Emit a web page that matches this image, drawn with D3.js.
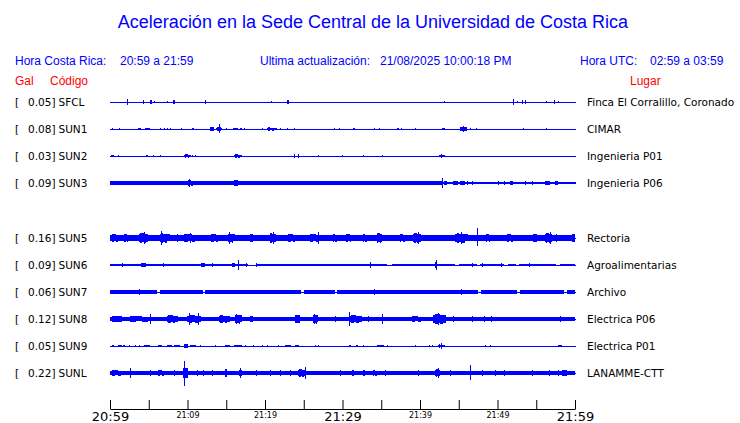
<!DOCTYPE html>
<html>
<head>
<meta charset="utf-8">
<script src="https://cdn.jsdelivr.net/npm/d3@7"></script>
<style>
  body { margin: 0; background: #fff; }
  svg { display: block; }
  .hdr { font-family: "Liberation Sans", Arial, sans-serif; font-size: 12px; }
  .lbl { font-family: "DejaVu Sans", sans-serif; font-size: 10.5px; fill: #000; }
</style>
</head>
<body>
<svg id="chart"></svg>
<script>
// --- data ---
const slots = ["SFCL", "SUN1", "SUN2", "SUN3", "SUN4", "SUN5", "SUN6", "SUN7", "SUN8", "SUN9", "SUNL"];
const codes = ["SFCL", "SUN1", "SUN2", "SUN3", "SUN5", "SUN6", "SUN7", "SUN8", "SUN9", "SUNL"];
const peakGal = [0.05, 0.08, 0.03, 0.09, 0.16, 0.09, 0.06, 0.12, 0.05, 0.22];
const places = ["Finca El Corralillo, Coronado", "CIMAR", "Ingenieria P01", "Ingenieria P06",
  "Rectoria", "Agroalimentarias", "Archivo", "Electrica P06", "Electrica P01", "LANAMME-CTT"];
// background noise level (gal, half amplitude) per station
const noiseGal = [0.008, 0.008, 0.008, 0.028, 0.044, 0.022, 0.03, 0.036, 0.008, 0.04];

const tickTimes = ["20:59", "21:04", "21:09", "21:14", "21:19", "21:24", "21:29",
  "21:34", "21:39", "21:44", "21:49", "21:54", "21:59"];
const majorLabels = ["20:59", "21:29", "21:59"];
const minorLabels = ["21:09", "21:19", "21:39", "21:49"];

// bursts: [start min, end min, half amplitude up (gal), optional down]
const sfcl = [[2.15,2.15,0.045],[4.2,4.2,0.025],[5.1,5.1,0.03],[5.3,5.3,0.03],[5.7,5.7,0.017],[7.3,7.3,0.017],
  [8.1,8.3,0.025],[12.2,12.2,0.025],[20.8,20.8,0.017],[22.8,23.0,0.03],[43.1,43.1,0.017],[52.0,52.0,0.055],
  [52.5,52.5,0.017],[53.2,53.2,0.03],[53.5,53.5,0.03],[56.2,56.2,0.017],[57.3,57.3,0.03],[57.8,57.8,0.017]];
const sun1 = [[0.2,0.2,0.017],[1.1,1.1,0.017],[3.6,3.6,0.017],[3.8,4.1,0.022],[4.5,5.1,0.022],[6.4,6.4,0.017],
  [7.0,7.0,0.017],[7.4,7.4,0.017],[7.8,7.8,0.017],[9.2,9.2,0.017],[10.6,10.9,0.022],[12.9,13.4,0.025],
  [13.7,14.5,0.033],[14.1,14.1,0.088,0.072],[15.0,15.0,0.017],[15.9,16.5,0.022],[16.8,17.1,0.022],[17.3,17.3,0.017],
  [19.6,19.6,0.022],[20.2,21.5,0.027],[20.5,20.5,0.038],[21.9,21.9,0.022],[22.9,22.9,0.017],[23.8,23.8,0.017],
  [28.9,28.9,0.017],[29.6,29.6,0.017],[31.4,31.6,0.022],[34.0,34.0,0.022],[34.7,34.7,0.017],[37.0,37.2,0.022],
  [37.6,37.6,0.017],[39.4,39.4,0.017],[42.9,43.3,0.022],[45.2,46.1,0.04],[45.6,45.6,0.045],[46.5,46.5,0.022],
  [47.2,47.2,0.022],[53.3,53.3,0.017],[56.3,56.3,0.022]];
const sun2 = [[0.1,0.5,0.022],[1.0,1.0,0.017],[4.6,4.9,0.022],[5.6,5.6,0.017],[6.4,6.4,0.017],[9.5,10.5,0.028],
  [10.6,10.6,0.022],[11.0,11.0,0.017],[16.0,17.0,0.028],[23.7,23.7,0.025],[24.3,24.3,0.025],[26.9,26.9,0.017],
  [29.9,29.9,0.017],[32.7,32.7,0.017],[35.1,35.1,0.022],[42.5,43.2,0.017],[42.7,42.7,0.033]];
const sun3 = [[1.3,1.3,0.033],[4.7,4.7,0.038],[5.5,5.5,0.038],[9.9,10.9,0.05],[10.2,10.2,0.06],[16.0,16.5,0.042],
  [23.8,23.8,0.038],[26.5,26.5,0.038],[26.9,26.9,0.038],[42.8,42.8,0.085],[43.1,43.5,0.04],[44.2,44.9,0.037],
  [45.2,45.8,0.037],[46.0,46.0,0.037],[46.7,46.7,0.037],[50.1,50.1,0.037],[50.8,50.8,0.037],[51.6,52.0,0.037],
  [53.5,53.5,0.037],[54.4,54.4,0.037],[56.1,56.7,0.037],[57.4,57.8,0.037]];
const sun5 = [[0,1.3,0.07],[1.7,2.6,0.065],[3.7,4.9,0.09],[4.4,4.4,0.1],[6.4,7.7,0.08],[6.6,6.6,0.12],
  [8.6,8.6,0.06],[9.2,11.6,0.07],[10.3,10.3,0.085],[12.9,14.2,0.065],[15.2,16.1,0.08],[15.3,15.3,0.1],
  [17.8,19.6,0.06],[20.4,21.7,0.075],[21.0,21.0,0.095],[22.8,24.3,0.07],[25.6,27.3,0.07],[26.9,26.9,0.105],
  [28.6,29.5,0.065],[30.3,31.4,0.07],[32.5,33.3,0.07],[34.4,35.1,0.085],[37.2,38.3,0.07],[39.1,40.1,0.09],
  [39.8,39.8,0.105],[44.5,46.2,0.08],[45.3,45.3,0.095],[47.4,47.4,0.16,0.128],[48.4,49.2,0.07],[51.0,52.3,0.065],
  [54.6,55.1,0.07],[56.1,57.0,0.085],[56.8,56.8,0.095],[57.4,58.1,0.06],[59.6,60,0.065]];
const sun6 = [[1.5,1.5,0.033],[3.9,4.9,0.033],[4.2,4.2,0.037],[6.9,6.9,0.037],[11.8,12.3,0.037],[13.1,13.1,0.033],
  [15.7,16.1,0.037],[16.5,16.5,0.088,0.078],[17.6,17.6,0.033],[18.9,18.9,0.033],[33.5,33.5,0.055],[41.9,42.2,0.045],
  [42.0,42.0,0.075],[46.7,46.7,0.033],[48.0,48.0,0.033],[50.5,50.5,0.033],[54.0,54.0,0.033]];
const sun7 = [[0.2,0.8,0.038],[3.3,4.2,0.04],[3.8,3.8,0.055],[8.2,8.2,0.04],[16.3,16.3,0.04],[19.1,19.1,0.04],
  [22.4,22.4,0.04],[30.3,30.3,0.04],[34.1,34.1,0.05],[35.5,35.5,0.04],[38.3,38.3,0.04],[40.6,40.6,0.04],
  [43.0,43.0,0.04],[45.3,45.3,0.05],[53.3,53.3,0.04],[54.6,54.6,0.04],[58.1,58.1,0.04]];
const sun8 = [[0,2.0,0.055],[2.0,5.8,0.052],[5.2,5.2,0.075],[7.3,8.8,0.068],[9.9,11.8,0.072],[10.2,10.2,0.095],
  [11.3,11.3,0.105],[14.0,15.5,0.062],[16.1,17.0,0.08],[18.1,18.5,0.055],[23.9,24.5,0.068],[26.2,26.9,0.08],
  [29.0,29.0,0.045],[30.9,32.5,0.07],[30.9,30.9,0.117,0.112],[33.3,33.3,0.05],[35.1,35.1,0.075],[38.7,40.6,0.052],
  [41.7,43.4,0.085],[42.3,42.3,0.1],[44.3,44.3,0.045],[46.7,46.7,0.042],[48.2,48.2,0.05],[49.2,49.2,0.042],
  [58.1,58.1,0.042]];
const sun9 = [[0.2,0.4,0.022],[1.0,1.5,0.022],[1.7,1.9,0.022],[2.4,2.4,0.022],[3.2,3.2,0.022],[3.7,3.7,0.022],
  [4.4,5.2,0.022],[6.2,6.7,0.022],[7.3,8.0,0.022],[8.2,9.0,0.022],[9.6,10.1,0.025],[9.9,9.9,0.038],[10.3,11.1,0.022],
  [11.6,11.6,0.022],[13.5,13.5,0.022],[14.8,15.4,0.022],[16.0,17.0,0.022],[17.4,17.4,0.022],[18.5,18.5,0.022],
  [19.6,19.6,0.022],[20.3,20.3,0.022],[21.7,21.7,0.022],[22.6,23.4,0.022],[23.9,24.4,0.022],[26.4,26.4,0.022],
  [26.8,26.8,0.022],[30.9,31.2,0.022],[31.7,32.0,0.022],[32.7,32.7,0.022],[34.5,35.3,0.022],[35.7,35.7,0.022],
  [39.4,39.4,0.017],[41.1,41.1,0.017],[41.5,41.5,0.017],[42.3,43.2,0.025],[42.7,42.7,0.055],[48.4,48.4,0.017],
  [49.0,49.0,0.017],[57.8,58.3,0.022]];
const sunl = [[0,1.9,0.05],[2.6,2.6,0.083],[5.2,5.2,0.05],[6.0,7.3,0.05],[8.2,8.2,0.05],[9.4,10.0,0.075],
  [9.6,9.6,0.2,0.212],[11.2,11.2,0.05],[12.0,12.0,0.05],[13.2,13.2,0.05],[14.8,15.1,0.062],[16.6,17.0,0.055],
  [16.8,16.8,0.088],[18.9,18.9,0.05],[20.6,20.6,0.05],[21.9,21.9,0.05],[23.2,23.2,0.05],[24.3,25.2,0.067],
  [25.1,25.1,0.1],[29.7,29.7,0.05],[31.2,31.4,0.055],[32.7,32.9,0.05],[33.8,34.6,0.05],[35.5,35.5,0.05],
  [39.8,39.8,0.05],[41.9,42.6,0.067],[42.3,42.3,0.083],[43.9,43.9,0.05],[46.4,46.4,0.133,0.117],[48.0,48.0,0.05],
  [49.7,49.7,0.05],[50.8,50.8,0.05],[54.4,54.4,0.05],[56.6,56.6,0.05],[57.8,57.8,0.05],[58.3,58.9,0.055]];
const bursts = [sfcl, sun1, sun2, sun3, sun5, sun6, sun7, sun8, sun9, sunl];

// quiet stretches where the noise band drops to a thinner level
const quiet = [[], [], [], [[42.8, 60]], [],
  [[17.8,18.8],[35.8,36.4],[44.5,45.0],[47.3,47.7],[50.8,51.3],[52.4,52.8],[57.6,58.0]],
  [[6.0,6.4],[12.0,12.3],[24.6,25.0],[29.0,29.3],[47.5,47.9],[52.5,52.9],[58.6,59.0]], [], [], []];
const quietGal = [0, 0, 0, 0.022, 0, 0.008, 0.008, 0, 0, 0];

const width = 740, height = 423;
const blue = "#0000ff", red = "#ff0000";

const svg = d3.select("#chart").attr("width", width).attr("height", height);

const parse = d3.timeParse("%H:%M");
const t0 = parse(tickTimes[0]);
const at = m => new Date(t0.getTime() + m * 60000);

const x = d3.scaleTime()
  .domain([t0, parse(tickTimes[tickTimes.length - 1])])
  .range([110, 575]);

const y = d3.scalePoint().domain(slots).range([102, 373]);

const amp = d3.scaleLinear().domain([0, 0.225]).range([0, 13.5]);

// title + header
svg.append("text")
  .attr("x", 373).attr("y", 28)
  .attr("text-anchor", "middle")
  .style("font-family", "Liberation Sans, Arial, sans-serif")
  .style("font-size", "18px")
  .style("fill", blue)
  .text("Aceleración en la Sede Central de la Universidad de Costa Rica");

const hdr = [
  ["Hora Costa Rica:", 15], ["20:59 a 21:59", 120],
  ["Ultima actualización:", 260], ["21/08/2025 10:00:18 PM", 380],
  ["Hora UTC:", 580], ["02:59 a 03:59", 650]
];
svg.selectAll(".hdr-blue").data(hdr).enter().append("text")
  .attr("class", "hdr")
  .attr("x", d => d[1]).attr("y", 65)
  .style("fill", blue)
  .text(d => d[0]);

svg.selectAll(".hdr-red").data([["Gal", 15], ["Código", 50], ["Lugar", 630]]).enter().append("text")
  .attr("class", "hdr")
  .attr("x", d => d[1]).attr("y", 85)
  .style("fill", red)
  .text(d => d[0]);

// burst envelope drawn in steps, like a decimated trace
const envelope = d3.area()
  .x(p => p[0])
  .y0(p => p[1])
  .y1(p => -p[2])
  .curve(d3.curveStepAfter);

// traces
const rows = svg.selectAll(".row").data(codes).enter().append("g")
  .attr("class", "row")
  .attr("transform", d => `translate(0, ${Math.round(y(d))})`);

rows.each(function(code, i) {
  const g = d3.select(this).append("g").style("shape-rendering", "crispEdges");
  const x0 = x(at(0)), x1 = x(at(60));
  // thin centre line
  g.append("rect").attr("x", x0).attr("y", -0.5).attr("width", x1 - x0 + 1).attr("height", 1).attr("fill", blue);
  // noise band, thinner over quiet stretches
  const h = amp(noiseGal[i]);
  if (h >= 1) {
    let segs = [], s = 0;
    quiet[i].forEach(q => { segs.push([s, q[0]]); s = q[1]; });
    segs.push([s, 60]);
    g.selectAll(".band").data(segs).enter().append("rect")
      .attr("x", d => x(at(d[0])))
      .attr("width", d => Math.max(0, x(at(d[1])) - x(at(d[0]))))
      .attr("y", -h).attr("height", 2 * h)
      .attr("fill", blue);
    const qh = amp(quietGal[i]);
    if (qh >= 1) {
      g.selectAll(".qband").data(quiet[i]).enter().append("rect")
        .attr("x", d => x(at(d[0])))
        .attr("width", d => x(at(d[1])) - x(at(d[0])) + 1)
        .attr("y", -qh).attr("height", 2 * qh)
        .attr("fill", blue);
    }
  }
  const narrow = bursts[i].filter(d => x(at(d[1])) - x(at(d[0])) < 5);
  const wide = bursts[i].filter(d => x(at(d[1])) - x(at(d[0])) >= 5);
  g.selectAll(".spike").data(narrow).enter().append("rect")
    .attr("x", d => Math.round(x(at(d[0]))))
    .attr("width", d => Math.max(1, Math.round(x(at(d[1])) - x(at(d[0])))))
    .attr("y", d => -Math.round(amp(d[2])))
    .attr("height", d => Math.max(1, Math.round(amp(d[2])) + Math.round(amp(d.length > 3 ? d[3] : d[2]))))
    .attr("fill", blue);
  g.selectAll(".burst").data(wide).enter().append("path")
    .attr("fill", blue)
    .attr("d", d => {
      const a = amp(d[2]), b = amp(d.length > 3 ? d[3] : d[2]);
      const xa = x(at(d[0])), xb = x(at(d[1])), w = xb - xa;
      const r = v => Math.round(v);
      return envelope([
        [r(xa), r(b * 0.75), r(a * 0.75)],
        [r(xa + w * 0.15), r(b), r(a)],
        [r(xa + w * 0.35), r(b * 0.8), r(a * 0.9)],
        [r(xa + w * 0.55), r(b * 0.95), r(a * 0.8)],
        [r(xa + w * 0.75), r(b * 0.7), r(a * 0.75)],
        [r(xb), r(b * 0.7), r(a * 0.75)]
      ]);
    });
});

// labels
rows.append("text").attr("class", "lbl").attr("x", 15).attr("y", 4).text("[");
rows.append("text").attr("class", "lbl").attr("x", 55.5).attr("y", 4)
  .attr("text-anchor", "end")
  .text((d, i) => peakGal[i].toFixed(2) + "]");
rows.append("text").attr("class", "lbl").attr("x", 58.5).attr("y", 4).text(d => d);
rows.append("text").attr("class", "lbl").attr("x", 587).attr("y", 4).text((d, i) => places[i]);

// time axis
const xAxis = d3.axisBottom(x)
  .tickValues(tickTimes.map(parse))
  .tickSizeInner(-9)
  .tickSizeOuter(0)
  .tickPadding(3)
  .tickFormat(d => {
    const s = d3.timeFormat("%H:%M")(d);
    return majorLabels.includes(s) || minorLabels.includes(s) ? s : "";
  });

const axisG = svg.append("g")
  .attr("transform", "translate(0, 409)")
  .call(xAxis);

axisG.select(".domain").attr("stroke", "#000");
axisG.selectAll(".tick line").attr("stroke", "#000");
axisG.selectAll(".tick text")
  .style("font-family", "DejaVu Sans, sans-serif")
  .style("fill", "#000")
  .style("font-size", d => majorLabels.includes(d3.timeFormat("%H:%M")(d)) ? "13px" : "8px");
</script>
</body>
</html>
